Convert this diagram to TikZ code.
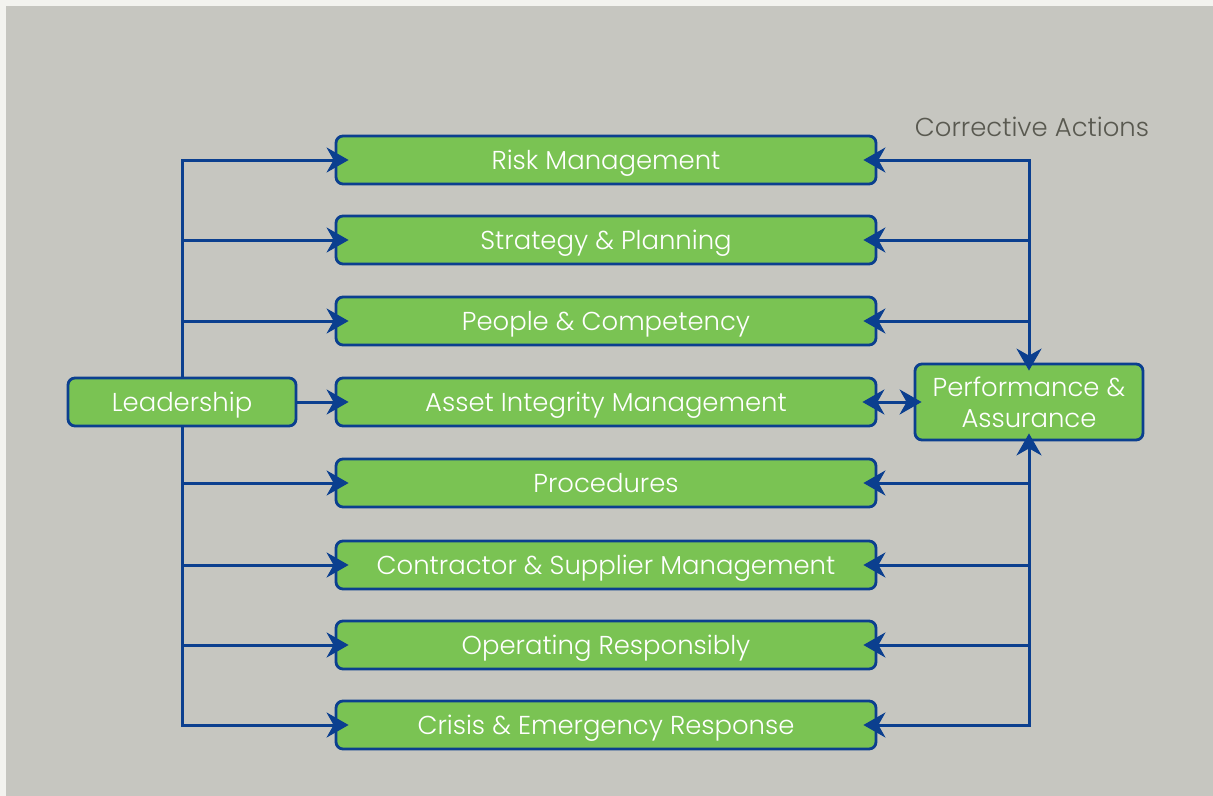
\documentclass[tikz,border=0pt]{standalone}
\usepackage{fontspec}
\setmainfont{Poppins Light}
\usetikzlibrary{arrows.meta}
\definecolor{panel}{HTML}{C6C6C0}
\definecolor{rim}{HTML}{F3F3EF}
\definecolor{boxgreen}{HTML}{7AC353}
\definecolor{linkblue}{HTML}{0B3F8F}
\definecolor{notegray}{HTML}{595950}

\begin{document}
\begin{tikzpicture}[x=1bp,y=-1bp,
  block/.style={draw=linkblue, line width=2.8bp, fill=boxgreen, rounded corners=7bp,
    text=white, font=\fontsize{26}{31}\selectfont, minimum height=48bp, inner sep=0pt, align=center},
  wide/.style={block, minimum width=540bp, text height=18bp, text depth=0bp},
  flow/.style={draw=linkblue, line width=3bp, -{Stealth[length=22bp,width=25bp,inset=7bp]}, shorten >=-14bp}]
  \useasboundingbox (0,0) rectangle (1213,796);
  \fill[rim] (0,0) rectangle (1213,796);
  \fill[panel] (6,6) rectangle (1213,796);

  % the eight elements
  \foreach \name/\label/\y in {risk/Risk Management/160, strategy/Strategy \& Planning/240,
      people/People \& Competency/321, asset/Asset Integrity Management/402,
      procedures/Procedures/483, contractor/Contractor \& Supplier Management/565,
      operating/Operating Responsibly/645, crisis/Crisis \& Emergency Response/725}
    \node[wide] (\name) at (606,\y) {\label};

  \node[block, minimum width=228bp, text height=18bp, text depth=0bp] (lead) at (182,402) {Leadership};
  \node[block, minimum width=228bp, minimum height=76bp] (perf) at (1029,402) {Performance \&\\Assurance};
  \node[text=notegray, font=\fontsize{26}{30}\selectfont] (note) at (1032,127) {Corrective Actions};

  % leadership feeds every element, corrective actions come back
  \foreach \name in {risk,strategy,people} {
    \draw[flow] (lead.north) |- (\name.west);
    \draw[flow] (perf.north) |- (\name.east);
  }
  \foreach \name in {procedures,contractor,operating,crisis} {
    \draw[flow] (lead.south) |- (\name.west);
    \draw[flow] (perf.south) |- (\name.east);
  }
  \draw[flow] (lead) -- (asset);
  \draw[flow, shorten >=-8bp] (people.east -| perf.north) -- (perf.north);
  \draw[flow, shorten >=-8bp] (procedures.east -| perf.south) -- (perf.south);
  \draw[flow, {Stealth[length=22bp,width=25bp,inset=7bp]}-{Stealth[length=22bp,width=25bp,inset=7bp]},
    shorten <=-15bp, shorten >=-8bp] (asset) -- (perf);
\end{tikzpicture}
\end{document}
